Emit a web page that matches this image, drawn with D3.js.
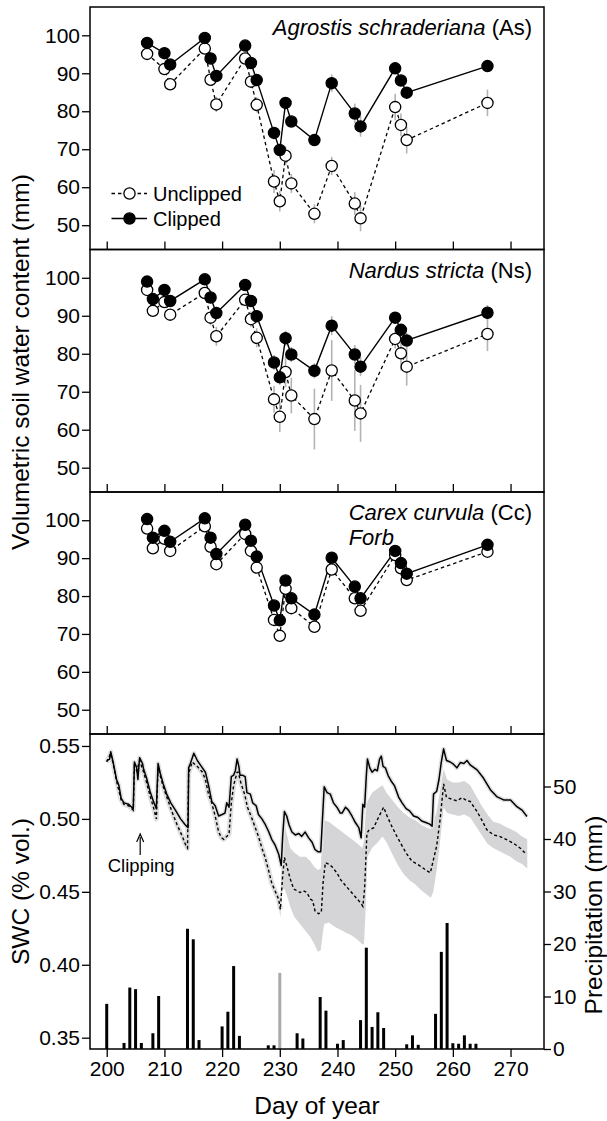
<!DOCTYPE html>
<html><head><meta charset="utf-8">
<script src="https://cdn.jsdelivr.net/npm/d3@7"></script>
<style>
body{margin:0;background:#fff}
text{font-family:"Liberation Sans",Arial,Helvetica,sans-serif;fill:#000}
</style>
</head><body>
<svg id="chart" width="607" height="1121"></svg>
<script>
// ---------------- DATA ----------------
const dayTicks = [200,210,220,230,240,250,260,270];
const mmTicks = [50,60,70,80,90,100];
const swcTicks = [0.35,0.40,0.45,0.50,0.55];
const precipTicks = [0,10,20,30,40,50];

// Panel 1: Agrostis schraderiana
const daysAs = [207,210,211,217,218,219,224,225,226,229,230,231,232,236,239,243,244,250,251,252,266];
const clippedAs   = [98.0,95.3,92.3,99.3,93.9,89.3,97.3,92.7,88.2,74.3,69.8,82.2,77.3,72.4,87.4,79.4,76.0,91.3,88.1,84.9,91.9];
const unclippedAs = [95.1,91.1,87.1,96.5,88.3,81.8,93.9,87.8,81.7,61.5,56.3,68.3,61.0,53.0,65.6,55.7,51.8,81.1,76.4,72.4,82.2];
const errClippedAs   = [0.8,0.8,1.0,0.8,1.0,1.0,0.8,1.0,1.0,1.5,1.5,1.5,1.5,1.5,2.3,2.6,2.7,1.5,1.5,1.5,1.5];
const errUnclippedAs = [1.0,1.2,1.5,1.0,1.5,2.0,1.0,1.5,2.0,3.0,2.7,2.5,2.5,2.5,2.4,3.0,3.4,3.5,3.0,3.5,3.5];

// Panels 2 and 3 sampling days
const daysNsCc = [207,208,210,211,217,218,219,224,225,226,229,230,231,232,236,239,243,244,250,251,252,266];
// Panel 2: Nardus stricta
const clippedNs   = [99.0,94.4,96.8,93.9,99.6,94.8,90.7,98.1,93.9,89.9,77.7,73.8,84.1,79.8,75.5,87.4,79.8,76.6,89.5,86.3,83.5,90.8];
const unclippedNs = [96.8,91.3,93.6,90.3,96.0,89.5,84.6,94.2,89.1,84.2,68.0,63.4,75.2,69.0,62.8,75.6,67.7,64.3,83.9,80.1,76.6,85.2];
const errClippedNs   = [0.8,1.0,1.0,1.0,0.8,1.0,1.2,0.8,1.0,1.2,2.0,2.0,2.0,2.0,2.0,2.5,2.5,2.5,1.5,1.5,2.0,2.0];
const errUnclippedNs = [1.0,1.2,1.2,1.5,1.0,2.0,2.5,1.5,2.0,2.5,3.5,4.0,4.0,4.7,8.0,8.0,8.0,7.5,2.5,4.5,5.0,4.5];
// Panel 3: Carex curvula
const clippedCc   = [100.3,95.4,97.2,94.3,100.5,95.4,91.1,98.8,94.6,90.4,77.5,73.6,84.1,79.4,75.1,90.1,82.5,79.4,91.9,88.7,85.9,93.5];
const unclippedCc = [97.8,92.6,95.1,91.9,98.4,93.0,88.4,96.4,91.9,87.5,73.7,69.5,81.9,76.8,71.9,87.0,79.4,76.1,90.8,87.3,84.2,91.7];
const errClippedCc   = [0.6,0.6,0.6,0.6,0.6,0.6,0.6,0.6,0.6,0.6,0.8,0.8,0.8,0.8,0.8,0.8,0.8,0.8,0.6,0.6,0.6,0.6];
const errUnclippedCc = [0.6,0.6,0.6,0.6,0.6,0.6,0.6,0.6,0.6,0.6,1.0,1.0,1.0,1.0,1.0,1.0,1.0,1.0,0.8,0.8,0.8,0.8];

// Panel 4: soil water content time series [day, SWC]
const swcClipped = [[200.0,0.540],[200.5,0.541],[200.7,0.546],[201.1,0.539],[201.7,0.527],[202.1,0.523],[202.5,0.514],[203.0,0.511],[203.8,0.510],[204.6,0.507],[204.8,0.539],[205.2,0.535],[205.4,0.527],[205.7,0.542],[206.2,0.538],[206.4,0.534],[206.9,0.528],[207.5,0.519],[208.1,0.512],[208.6,0.507],[208.9,0.538],[209.3,0.531],[209.8,0.524],[210.4,0.517],[211.1,0.511],[211.9,0.506],[212.8,0.500],[213.6,0.496],[214.1,0.494],[214.2,0.535],[214.5,0.538],[215.1,0.545],[215.7,0.540],[216.4,0.536],[217.1,0.532],[217.65,0.523],[218.2,0.512],[218.8,0.509],[219.4,0.502],[220.0,0.503],[220.5,0.504],[220.8,0.511],[221.2,0.508],[221.6,0.529],[222.0,0.530],[222.3,0.533],[222.6,0.541],[222.9,0.536],[223.1,0.530],[223.5,0.530],[224.0,0.529],[224.3,0.518],[224.9,0.517],[225.3,0.511],[225.9,0.509],[226.3,0.503],[226.9,0.500],[227.5,0.496],[228.1,0.491],[228.6,0.486],[229.2,0.482],[229.8,0.476],[230.25,0.468],[230.5,0.488],[230.8,0.505],[231.2,0.502],[231.6,0.496],[232.1,0.491],[232.7,0.489],[233.3,0.490],[233.8,0.488],[234.4,0.491],[235.0,0.487],[235.6,0.484],[236.1,0.479],[236.6,0.4775],[237.1,0.4775],[237.4,0.500],[237.7,0.522],[238.2,0.518],[238.75,0.517],[239.3,0.511],[239.9,0.508],[240.5,0.504],[240.8,0.504],[241.4,0.508],[241.9,0.506],[242.5,0.502],[243.1,0.4975],[243.7,0.494],[244.1,0.487],[244.4,0.510],[244.7,0.508],[245.0,0.5295],[245.2,0.541],[245.6,0.535],[246.0,0.532],[246.5,0.534],[246.9,0.533],[247.3,0.541],[247.6,0.543],[247.9,0.536],[248.3,0.535],[248.8,0.5295],[249.3,0.526],[249.9,0.5226],[250.6,0.515],[251.2,0.511],[251.9,0.507],[252.5,0.5055],[253.2,0.502],[253.95,0.501],[254.6,0.4986],[255.3,0.4975],[256.0,0.4964],[256.4,0.495],[256.65,0.517],[257.2,0.519],[257.6,0.527],[258.0,0.539],[258.4,0.548],[258.7,0.543],[258.9,0.540],[259.55,0.539],[260.1,0.5375],[260.7,0.535],[261.3,0.5386],[261.9,0.538],[262.45,0.540],[263.0,0.537],[264.2,0.5336],[265.3,0.528],[266.5,0.520],[267.6,0.5153],[268.8,0.513],[270.0,0.513],[271.1,0.5084],[272.0,0.506],[272.85,0.5016]];

const swcUnclipped = [[200.0,0.539],[200.7,0.545],[201.1,0.538],[201.7,0.526],[202.5,0.513],[203.0,0.510],[203.8,0.509],[204.6,0.506],[204.8,0.536],[205.2,0.533],[205.7,0.540],[206.4,0.532],[206.9,0.525],[207.5,0.516],[208.1,0.508],[208.6,0.500],[208.9,0.535],[209.8,0.522],[210.5,0.514],[211.4,0.504],[212.2,0.496],[213.1,0.488],[213.7,0.482],[214.0,0.480],[214.2,0.531],[214.8,0.539],[215.7,0.536],[216.6,0.532],[217.1,0.527],[217.65,0.517],[218.2,0.511],[218.8,0.502],[219.4,0.491],[219.9,0.487],[220.3,0.486],[220.8,0.488],[221.2,0.4895],[221.6,0.511],[222.0,0.523],[222.6,0.532],[222.8,0.532],[223.3,0.524],[223.9,0.517],[224.4,0.508],[225.1,0.501],[225.7,0.4945],[226.3,0.488],[226.9,0.480],[227.5,0.473],[228.1,0.464],[228.6,0.456],[229.3,0.4495],[229.8,0.445],[230.1,0.438],[230.5,0.461],[230.8,0.4735],[231.2,0.468],[231.8,0.459],[232.4,0.452],[233.0,0.4507],[233.5,0.4495],[234.1,0.4507],[234.7,0.4495],[235.3,0.445],[235.7,0.444],[236.1,0.437],[236.7,0.435],[237.2,0.436],[237.5,0.456],[237.9,0.470],[238.5,0.469],[239.1,0.467],[239.9,0.463],[240.6,0.458],[241.9,0.452],[243.0,0.447],[244.1,0.442],[244.4,0.440],[244.7,0.452],[245.1,0.490],[245.4,0.492],[246.3,0.494],[247.1,0.501],[248.0,0.508],[248.6,0.502],[249.4,0.495],[250.3,0.488],[251.2,0.4815],[252.0,0.476],[252.9,0.471],[253.8,0.469],[254.6,0.467],[255.5,0.4644],[256.1,0.463],[256.65,0.4724],[257.2,0.4815],[257.8,0.500],[258.4,0.524],[258.9,0.5146],[259.85,0.5135],[260.7,0.5124],[261.6,0.5146],[262.45,0.5124],[263.0,0.512],[264.2,0.505],[265.0,0.4993],[265.9,0.4925],[267.06,0.489],[268.2,0.4879],[269.4,0.4856],[270.5,0.4833],[271.7,0.4799],[272.55,0.4765],[272.9,0.4763]];

// Unclipped spread band [day, low, high]
const swcUnclippedBand = [[229.8,0.441,0.449],[230.1,0.432,0.444],[230.3,0.445,0.470],[230.5,0.452,0.494],[230.8,0.452,0.497],[231.2,0.448,0.490],[231.8,0.440,0.480],[232.5,0.433,0.477],[233.5,0.428,0.474],[234.5,0.423,0.474],[235.3,0.419,0.471],[236.0,0.414,0.467],[236.6,0.409,0.465],[237.1,0.410,0.466],[237.4,0.420,0.490],[237.7,0.428,0.499],[238.5,0.429,0.498],[239.5,0.426,0.495],[240.5,0.424,0.492],[241.5,0.422,0.489],[242.5,0.420,0.486],[243.5,0.417,0.483],[244.3,0.414,0.480],[244.6,0.414,0.485],[244.9,0.440,0.505],[245.2,0.474,0.512],[246.0,0.480,0.518],[247.0,0.484,0.521],[247.8,0.488,0.523],[248.5,0.484,0.518],[249.5,0.476,0.513],[250.5,0.468,0.508],[251.5,0.462,0.504],[252.5,0.458,0.501],[253.5,0.455,0.499],[254.5,0.451,0.496],[255.5,0.448,0.494],[256.2,0.446,0.493],[256.6,0.450,0.497],[257.2,0.465,0.505],[257.8,0.485,0.520],[258.4,0.508,0.534],[259.0,0.504,0.527],[260.0,0.503,0.525],[261.0,0.502,0.525],[262.0,0.503,0.526],[263.0,0.501,0.523],[264.0,0.495,0.516],[265.0,0.489,0.509],[266.0,0.483,0.503],[267.0,0.480,0.498],[268.0,0.478,0.497],[269.0,0.476,0.495],[270.0,0.474,0.493],[271.0,0.471,0.491],[272.0,0.469,0.488],[272.9,0.466,0.486]];

// Daily precipitation (mm)
const precipDays = [200,203,204,205,206,208,209,214,215,216,220,221,222,223,228,229,230,233,234,237,238,240,241,244,245,246,247,248,252,253,254,257,258,259,260,261,262,263,264];
const precipMM   = [8.6,1.15,11.7,11.4,1.15,3.0,10.1,22.9,20.9,1.7,4.3,7.1,15.8,2.5,0.7,0.7,14.5,3.0,2.0,9.9,7.3,1.0,1.7,5.5,19.3,4.2,7.0,4.0,0.9,2.6,0.8,6.7,18.5,24.0,1.1,1.0,2.6,1.0,1.0];
const greyPrecipDays = [230];
const clippingDay = 205.8;

const speciesNames = ["Agrostis schraderiana","Nardus stricta","Carex curvula"];
const speciesCodes = ["(As)","(Ns)","(Cc)"];

// ---------------- LAYOUT ----------------
const svg = d3.select("#chart");
const L = 90, R = 544;
const tops = [7, 249.5, 492, 734];
const bots = [249.5, 492, 734, 1049];
const FONT = 21;

const x = d3.scaleLinear().domain([197.1, 275.8]).range([L, R]);

const panels = [
  {days: daysAs, c: clippedAs, u: unclippedAs, ec: errClippedAs, eu: errUnclippedAs},
  {days: daysNsCc, c: clippedNs, u: unclippedNs, ec: errClippedNs, eu: errUnclippedNs},
  {days: daysNsCc, c: clippedCc, u: unclippedCc, ec: errClippedCc, eu: errUnclippedCc}
];

function styleAxis(g){
  g.select(".domain").remove();
  g.selectAll(".tick line").attr("stroke","#000").attr("stroke-width",1.3);
  g.selectAll(".tick text").style("font-size",FONT+"px").style("font-family",'"Liberation Sans",Arial,sans-serif').attr("fill","#000");
}

panels.forEach((p,i)=>{
  const y = d3.scaleLinear().domain([43.6,107.45]).range([bots[i], tops[i]]);
  const g = svg.append("g");
  const ya = g.append("g").attr("transform",`translate(${L},0)`)
    .call(d3.axisLeft(y).tickValues(mmTicks).tickSize(8).tickPadding(2).tickSizeOuter(0));
  styleAxis(ya);
  const xa = g.append("g").attr("transform",`translate(0,${bots[i]})`)
    .call(d3.axisBottom(x).tickValues(dayTicks).tickSize(-8).tickFormat("").tickSizeOuter(0));
  styleAxis(xa);

  const ebU = p.days.map((d,k)=>({d, v:p.u[k], e:p.eu[k]}));
  const ebC = p.days.map((d,k)=>({d, v:p.c[k], e:p.ec[k]}));
  g.selectAll(".ebu").data(ebU.concat(ebC)).enter().append("line")
    .attr("x1",d=>x(d.d)).attr("x2",d=>x(d.d))
    .attr("y1",d=>y(d.v-d.e)).attr("y2",d=>y(d.v+d.e))
    .attr("stroke","#b3b3b3").attr("stroke-width",1.6);

  const line = d3.line().x(d=>x(d[0])).y(d=>y(d[1]));
  const uPts = p.days.map((d,k)=>[d,p.u[k]]);
  const cPts = p.days.map((d,k)=>[d,p.c[k]]);
  g.append("path").attr("d",line(uPts)).attr("fill","none").attr("stroke","#000")
    .attr("stroke-width",1.3).attr("stroke-dasharray","3.5,3");
  g.append("path").attr("d",line(cPts)).attr("fill","none").attr("stroke","#000").attr("stroke-width",1.4);

  g.selectAll(".ou").data(uPts).enter().append("circle")
    .attr("cx",d=>x(d[0])).attr("cy",d=>y(d[1])).attr("r",5.6)
    .attr("fill","#fff").attr("stroke","#000").attr("stroke-width",1.3);
  g.selectAll(".fc").data(cPts).enter().append("circle")
    .attr("cx",d=>x(d[0])).attr("cy",d=>y(d[1])).attr("r",5.6)
    .attr("fill","#000").attr("stroke","#000").attr("stroke-width",1.3);

  const labY = [27, 269.5, 512][i];
  const t = g.append("text").attr("x",532).attr("y",labY).attr("text-anchor","end")
    .attr("dominant-baseline","central").style("font-size","22px");
  t.append("tspan").style("font-style","italic").text(speciesNames[i]);
  t.append("tspan").text(" "+speciesCodes[i]);
  if(i===2){
    const bb = t.node().getBBox();
    g.append("text").attr("x",bb.x).attr("y",537).attr("dominant-baseline","central")
      .style("font-size","22px").style("font-style","italic").text("Forb");
  }
  g.append("rect").attr("x",L).attr("y",tops[i]).attr("width",R-L).attr("height",bots[i]-tops[i])
    .attr("fill","none").attr("stroke","#000").attr("stroke-width",1.5);
});

// legend in panel 1
const lg = svg.append("g");
[[193.5,true,"Unclipped"],[218.5,false,"Clipped"]].forEach(([yy,open,label])=>{
  lg.append("line").attr("x1",111.5).attr("x2",147).attr("y1",yy).attr("y2",yy)
    .attr("stroke","#000").attr("stroke-width",1.3).attr("stroke-dasharray",open?"3.5,3":null);
  lg.append("circle").attr("cx",129.5).attr("cy",yy).attr("r",5.6)
    .attr("fill",open?"#fff":"#000").attr("stroke","#000").attr("stroke-width",1.3);
  lg.append("text").attr("x",153).attr("y",yy).attr("dominant-baseline","central")
    .style("font-size","20px").text(label);
});

// ---------------- PANEL 4 ----------------
const y4 = d3.scaleLinear().domain([0.34225,0.5582]).range([bots[3], tops[3]]);
const yp = d3.scaleLinear().domain([0,60]).range([bots[3], tops[3]]);
const g4 = svg.append("g");

const area = d3.area().x(d=>x(d[0])).y0(d=>y4(d[1])).y1(d=>y4(d[2]));
g4.append("path").attr("d",area(swcUnclippedBand)).attr("fill","#d5d5d7");

const l4 = d3.line().x(d=>x(d[0])).y(d=>y4(d[1]));
g4.append("path").attr("d",l4(swcUnclipped.filter(d=>d[0]<=230.1))).attr("fill","none")
  .attr("stroke","#dedede").attr("stroke-width",5).attr("stroke-linejoin","round");
g4.append("path").attr("d",l4(swcClipped)).attr("fill","none")
  .attr("stroke","#e2e2e2").attr("stroke-width",4.5).attr("stroke-linejoin","round");

g4.selectAll(".bar").data(precipDays.map((d,k)=>[d,precipMM[k]])).enter().append("rect")
  .attr("x",d=>x(d[0])-1.5).attr("width",3)
  .attr("y",d=>yp(d[1])).attr("height",d=>yp(0)-yp(d[1]))
  .attr("fill",d=>greyPrecipDays.includes(d[0])?"#aaaaaa":"#000");

g4.append("path").attr("d",l4(swcUnclipped)).attr("fill","none").attr("stroke","#000")
  .attr("stroke-width",1.4).attr("stroke-dasharray","3,2.5");
g4.append("path").attr("d",l4(swcClipped)).attr("fill","none").attr("stroke","#000")
  .attr("stroke-width",1.5).attr("stroke-linejoin","round");

const ya4 = g4.append("g").attr("transform",`translate(${L},0)`)
  .call(d3.axisLeft(y4).tickValues(swcTicks).tickFormat(d3.format(".2f")).tickSize(8).tickPadding(2).tickSizeOuter(0));
styleAxis(ya4);
const yr4 = g4.append("g").attr("transform",`translate(${R},0)`)
  .call(d3.axisRight(yp).tickValues(precipTicks).tickSize(7).tickPadding(2).tickSizeOuter(0));
styleAxis(yr4);
const xa4 = g4.append("g").attr("transform",`translate(0,${bots[3]})`)
  .call(d3.axisBottom(x).tickValues(dayTicks).tickSize(8).tickPadding(4).tickSizeOuter(0));
styleAxis(xa4);

g4.append("rect").attr("x",L).attr("y",tops[3]).attr("width",R-L).attr("height",bots[3]-tops[3])
  .attr("fill","none").attr("stroke","#000").attr("stroke-width",1.5);

const cx = x(clippingDay);
g4.append("line").attr("x1",cx).attr("x2",cx).attr("y1",837).attr("y2",855)
  .attr("stroke","#000").attr("stroke-width",1.2);
g4.append("path").attr("d",`M${cx-3.5},${842} L${cx},${834} L${cx+3.5},${842}`)
  .attr("fill","none").attr("stroke","#000").attr("stroke-width",1.2);
g4.append("text").attr("x",cx+1).attr("y",872).attr("text-anchor","middle")
  .style("font-size","18.5px").text("Clipping");

// ---------------- AXIS TITLES ----------------
svg.append("text").attr("transform",`translate(29,362) rotate(-90)`)
  .attr("text-anchor","middle").style("font-size","24.5px").text("Volumetric soil water content (mm)");
svg.append("text").attr("transform",`translate(29,${(tops[3]+bots[3])/2}) rotate(-90)`)
  .attr("text-anchor","middle").style("font-size","24.5px").text("SWC (% vol.)");
svg.append("text").attr("transform",`translate(602,915) rotate(-90)`)
  .attr("text-anchor","middle").style("font-size","24.5px").text("Precipitation (mm)");
svg.append("text").attr("x",(L+R)/2).attr("y",1114).attr("text-anchor","middle")
  .style("font-size","24.5px").text("Day of year");
</script>
</body></html>
